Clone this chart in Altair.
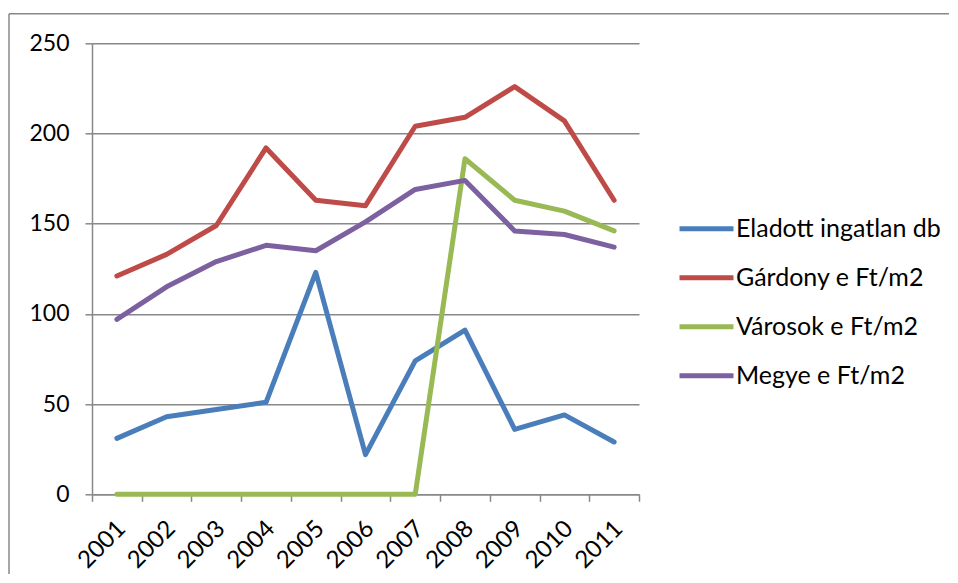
import altair as alt
import pandas as pd

years = ["2001", "2002", "2003", "2004", "2005", "2006", "2007", "2008", "2009", "2010", "2011"]
series = ["Eladott ingatlan db", "Gárdony e Ft/m2", "Városok e Ft/m2", "Megye e Ft/m2"]
colors = ["#4A7EBB", "#BE4B48", "#98B954", "#7D60A0"]

eladott = [31, 43, 47, 51, 123, 22, 74, 91, 36, 44, 29]
gardony = [121, 133, 149, 192, 163, 160, 204, 209, 226, 207, 163]
varosok = [0, 0, 0, 0, 0, 0, 0, 186, 163, 157, 146]
megye = [97, 115, 129, 138, 135, 151, 169, 174, 146, 144, 137]

rows = []
for name, vals in zip(series, [eladott, gardony, varosok, megye]):
    for i, (y, v) in enumerate(zip(years, vals)):
        rows.append({"Év": y, "Sorozat": name, "Érték": v, "ord": series.index(name)})
df = pd.DataFrame(rows)

FONT = "Lato"
GRAY = "#888888"

lines = alt.Chart(df).mark_line(strokeWidth=5, strokeCap="round", strokeJoin="round").encode(
    x=alt.X("Év:O", sort=years, scale=alt.Scale(paddingInner=0, paddingOuter=0),
            axis=alt.Axis(title=None, labelAngle=315, labelAlign="right", labelBaseline="top",
                          labelFontSize=24, labelFont=FONT, labelColor="#000000",
                          labelPadding=15, labelOffset=-4, tickBand="extent", tickSize=7,
                          tickColor=GRAY, tickWidth=1.5, domainColor=GRAY, domainWidth=1.5,
                          grid=False)),
    y=alt.Y("Érték:Q", scale=alt.Scale(domain=[0, 250], nice=False),
            axis=alt.Axis(title=None, values=[0, 50, 100, 150, 200, 250], labelFontSize=23,
                          labelFont=FONT, labelColor="#000000", labelPadding=16, tickSize=7,
                          tickColor=GRAY, tickWidth=1.5, domainColor=GRAY, domainWidth=1.5,
                          grid=True, gridColor=GRAY, gridWidth=1.5)),
    color=alt.Color("Sorozat:N", sort=series,
                    scale=alt.Scale(domain=series, range=colors),
                    legend=alt.Legend(title=None, orient="none", legendX=585, legendY=173,
                                      symbolType="stroke", symbolSize=2916, symbolStrokeWidth=5,
                                      labelFontSize=25, labelFont=FONT, labelColor="#000000",
                                      labelLimit=400, labelOffset=0, clipHeight=25,
                                      rowPadding=23, padding=0)),
    order=alt.Order("ord:Q"),
)

frame = alt.Chart(alt.Data(values=[{"a": 1}])).mark_rule(color=GRAY, strokeWidth=1.5).encode(
    x=alt.value(-83), y=alt.value(-29.5), y2=alt.value(560)
)
frame_top = alt.Chart(alt.Data(values=[{"a": 1}])).mark_rule(color=GRAY, strokeWidth=1.5).encode(
    x=alt.value(-83), x2=alt.value(860), y=alt.value(-29.5)
)

chart = alt.layer(lines, frame, frame_top).properties(
    width=547, height=451,
    autosize=alt.AutoSizeParams(type="none"),
    padding={"left": 84, "top": 35.3, "right": 310, "bottom": 80},
).configure_view(stroke=None)

chart.save("out.html", embed_options={"renderer": "svg", "actions": False})
